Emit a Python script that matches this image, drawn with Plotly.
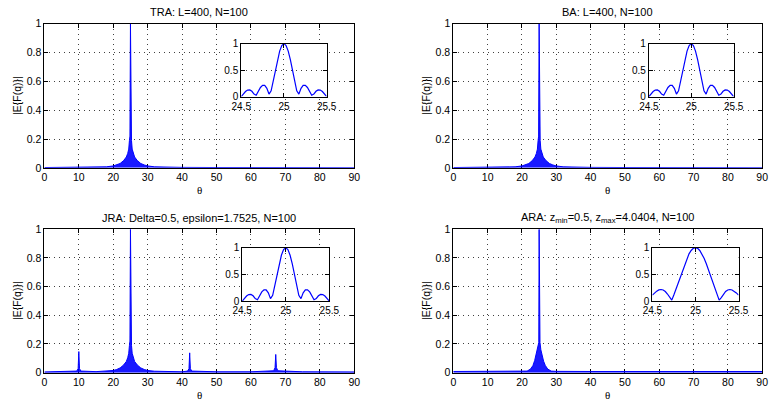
import plotly.graph_objects as go

# ---------------- data ----------------
theta_tra = [0, 5, 10, 15, 18, 20, 21, 22, 23, 23.8, 24.2, 24.5, 24.7, 24.85, 25,
             25.15, 25.3, 25.5, 25.8, 26.2, 27, 28, 29, 30, 32, 35, 40, 50, 60, 70, 80, 90]
E_tra = [0.002, 0.002, 0.003, 0.004, 0.007, 0.013, 0.02, 0.03, 0.05, 0.075, 0.10, 0.13, 0.19, 0.22, 1.0,
         0.22, 0.19, 0.13, 0.10, 0.075, 0.05, 0.03, 0.02, 0.013, 0.007, 0.004, 0.003, 0.002, 0.002, 0.001, 0.001, 0.001]

theta_ba = list(theta_tra)
E_ba = list(E_tra)

theta_jra = [0, 5, 9.4, 9.8, 10.0, 10.2, 10.6, 15, 18, 20, 21, 22, 23, 23.8, 24.2, 24.5, 24.7, 24.85, 25,
             25.15, 25.3, 25.5, 25.8, 26.2, 27, 28, 29, 30, 32, 35, 40, 41.6, 42.0, 42.2, 42.4, 42.8,
             50, 60, 66.6, 67.0, 67.2, 67.4, 67.8, 75, 80, 90]
E_jra = [0.005, 0.006, 0.011, 0.028, 0.147, 0.028, 0.011, 0.007, 0.010, 0.015, 0.022, 0.033, 0.053, 0.078, 0.104, 0.135, 0.19, 0.22, 1.0,
         0.22, 0.19, 0.135, 0.104, 0.078, 0.053, 0.033, 0.022, 0.015, 0.010, 0.007, 0.006, 0.011, 0.028, 0.138, 0.028, 0.011,
         0.006, 0.006, 0.013, 0.035, 0.127, 0.035, 0.013, 0.006, 0.005, 0.005]

theta_ara = [0, 10, 20, 21.5, 22.5, 23.2, 23.7, 24.1, 24.5, 24.75, 24.9, 25,
             25.1, 25.25, 25.5, 25.9, 26.3, 26.8, 27.5, 28.5, 30, 40, 50, 60, 70, 80, 90]
E_ara = [0.008, 0.008, 0.009, 0.011, 0.025, 0.05, 0.085, 0.13, 0.18, 0.21, 0.21, 1.0,
         0.21, 0.21, 0.16, 0.11, 0.08, 0.05, 0.025, 0.011, 0.009, 0.008, 0.008, 0.008, 0.008, 0.008, 0.008]

# zoomed main lobe (insets), theta from 24.5 to 25.5 in steps of 0.025
theta_zoom = [24.5 + 0.025 * k for k in range(41)]
E_zoom_narrow = [0.0, 0.051, 0.095, 0.123, 0.126, 0.100, 0.047, 0.026, 0.104, 0.172, 0.212, 0.210, 0.156,
                 0.047, 0.109, 0.300, 0.505, 0.699, 0.858, 0.964, 1.0, 0.964, 0.858, 0.699, 0.505, 0.300,
                 0.109, 0.047, 0.156, 0.210, 0.212, 0.172, 0.104, 0.026, 0.047, 0.100, 0.126, 0.123,
                 0.095, 0.051, 0.0]
E_zoom_wide = [0.112, 0.153, 0.187, 0.209, 0.217, 0.208, 0.180, 0.133, 0.066, 0.018, 0.119, 0.230, 0.349,
               0.471, 0.590, 0.703, 0.803, 0.886, 0.948, 0.987, 1.0, 0.987, 0.948, 0.886, 0.803, 0.703,
               0.590, 0.471, 0.349, 0.230, 0.119, 0.018, 0.066, 0.133, 0.180, 0.208, 0.217, 0.209,
               0.187, 0.153, 0.112]

titles = ["TRA: L=400, N=100", "BA: L=400, N=100",
          "JRA: Delta=0.5, epsilon=1.7525, N=100",
          "ARA: z<sub>min</sub>=0.5, z<sub>max</sub>=4.0404, N=100"]
main_x_ticks = [0, 10, 20, 30, 40, 50, 60, 70, 80, 90]
main_y_ticks = [0, 0.2, 0.4, 0.6, 0.8, 1]
zoom_x_ticks = [24.5, 25, 25.5]
zoom_y_ticks = [0, 0.5, 1]

# ---------------- figure ----------------
W, H = 780, 410
BLUE = "rgb(0,0,255)"
FONT = "Liberation Sans"

def fx(px):
    return px / W

def fy(py):
    return 1 - py / H

main_boxes = [  # (left, right, top, bottom) in pixels
    (35.3, 353.3, 18.3, 166.7),
    (455.0, 772.0, 18.3, 166.7),
    (35.3, 353.3, 230.0, 377.7),
    (455.0, 772.0, 230.0, 377.7),
]
inset_boxes = [
    (237.3, 325.0, 38.7, 93.3),
    (655.7, 742.7, 38.7, 93.3),
    (238.3, 327.7, 249.0, 304.0),
    (659.3, 747.7, 249.0, 304.0),
]

main_data = [(theta_tra, E_tra), (theta_ba, E_ba), (theta_jra, E_jra), (theta_ara, E_ara)]
zoom_data = [E_zoom_narrow, E_zoom_narrow, E_zoom_narrow, E_zoom_wide]

fig = go.Figure()
layout = {}

def axis_style(rng, ticks, layer, fsize):
    return dict(range=rng, tickvals=ticks, showline=True, linecolor="black", linewidth=1,
                mirror="ticks", ticks="inside", ticklen=4, tickcolor="black",
                showgrid=True, gridcolor="rgba(0,0,0,0.75)", griddash="1px,4px", gridwidth=1,
                zeroline=False, fixedrange=True, layer=layer,
                tickfont=dict(family=FONT, size=fsize, color="black"))

annotations = []
for i in range(4):
    n = i + 1
    sx = "" if n == 1 else str(n)
    l, r, t, b = main_boxes[i]
    xa = axis_style([0, 90], main_x_ticks, "below traces", 10.5)
    xa.update(domain=[fx(l), fx(r)], anchor="y" + sx)
    ya = axis_style([0, 1], main_y_ticks, "below traces", 10.5)
    ya.update(domain=[fy(b), fy(t)], anchor="x" + sx)
    layout["xaxis" + sx] = xa
    layout["yaxis" + sx] = ya
    th, ev = main_data[i]
    fig.add_trace(go.Scatter(x=th, y=ev, mode="lines", fill="tozeroy",
                             fillcolor="rgba(0,0,255,0.9)",
                             line=dict(color=BLUE, width=1),
                             xaxis="x" + sx, yaxis="y" + sx, showlegend=False))

    # titles & axis labels
    cx = (l + r) / 2
    annotations.append(dict(text=titles[i], x=fx(cx), y=fy(t - 12), xref="paper", yref="paper",
                            showarrow=False, xanchor="center", yanchor="middle",
                            font=dict(family=FONT, size=11, color="black")))
    annotations.append(dict(text="θ", x=fx(cx), y=fy(b + 23), xref="paper", yref="paper",
                            showarrow=False, xanchor="center", yanchor="middle",
                            font=dict(family="Liberation Serif", size=11, color="black")))
    annotations.append(dict(text="|E{F(q)}|", x=fx(l - 28), y=fy((t + b) / 2), xref="paper",
                            yref="paper", showarrow=False, textangle=-90,
                            xanchor="center", yanchor="middle",
                            font=dict(family=FONT, size=10.5, color="black")))

for i in range(4):
    n = i + 5
    sx = str(n)
    l, r, t, b = inset_boxes[i]
    xa = axis_style([24.5, 25.5], zoom_x_ticks, "above traces", 10)
    xa.update(domain=[fx(l), fx(r)], anchor="y" + sx)
    ya = axis_style([0, 1], zoom_y_ticks, "above traces", 10)
    ya.update(domain=[fy(b), fy(t)], anchor="x" + sx)
    layout["xaxis" + sx] = xa
    layout["yaxis" + sx] = ya
    fig.add_trace(go.Scatter(x=theta_zoom, y=zoom_data[i], mode="lines",
                             line=dict(color=BLUE, width=1.2),
                             xaxis="x" + sx, yaxis="y" + sx, showlegend=False))

fig.update_layout(**layout)
fig.update_layout(width=W, height=H, margin=dict(l=0, r=0, t=0, b=0),
                  paper_bgcolor="white", plot_bgcolor="white",
                  annotations=annotations, showlegend=False)

fig.write_html("out.html")
